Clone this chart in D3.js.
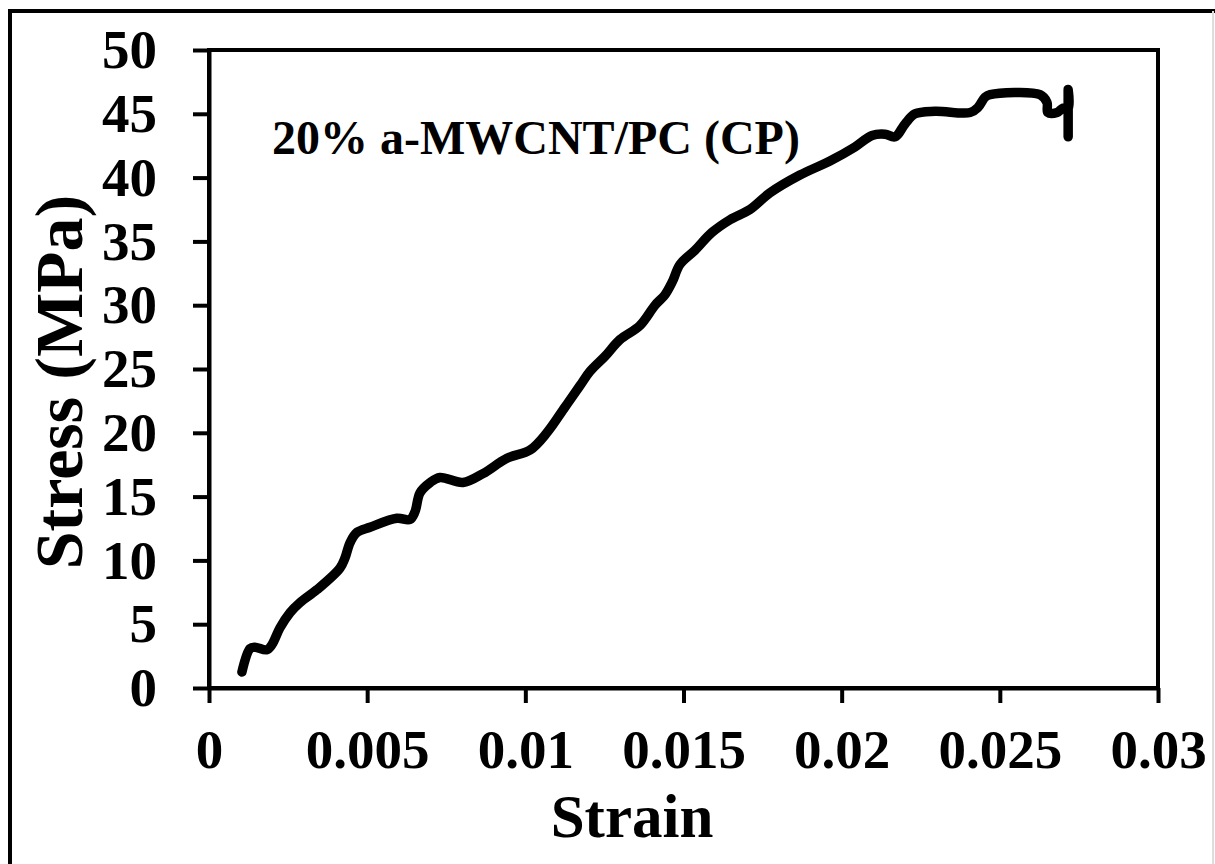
<!DOCTYPE html>
<html lang="en">
<head>
<meta charset="UTF-8">
<title>Stress-strain curve</title>
<script src="https://cdn.jsdelivr.net/npm/d3@7"></script>
<style>
  body { margin: 0; background: #fff; }
  svg { display: block; }
  text { font-family: 'Liberation Serif', 'Times New Roman', serif; font-weight: bold; fill: #000; }
</style>
</head>
<body>
<div id="chart"></div>
<script>
// values
var strain = [0.00104, 0.0013, 0.00145, 0.00183, 0.00199, 0.00224, 0.00256, 0.00288, 0.00341, 0.00414,
              0.0043, 0.00446, 0.00468, 0.00509, 0.00594, 0.00635, 0.00651, 0.00667, 0.00699, 0.0073,
              0.00803, 0.00866, 0.00942, 0.01015, 0.01068, 0.01125, 0.01173, 0.01204, 0.01252, 0.01299,
              0.01362, 0.0141, 0.01441, 0.01464, 0.01489, 0.01536, 0.0159, 0.01647, 0.0171, 0.01773,
              0.01868, 0.01963, 0.02042, 0.02096, 0.02137, 0.02169, 0.022, 0.02232, 0.02295, 0.02406,
              0.02431, 0.02453, 0.02469, 0.02627, 0.02649, 0.02652, 0.02681, 0.027, 0.02716, 0.02716, 0.02716];
var stress = [1.25, 3.1, 3.2, 3.0, 3.4, 4.7, 5.9, 6.7, 7.7, 9.4,
              10.2, 11.4, 12.2, 12.6, 13.3, 13.2, 13.8, 15.3, 16.1, 16.5,
              16.1, 16.8, 18.0, 18.65, 20.0, 22.0, 23.7, 24.8, 26.0, 27.3,
              28.4, 30.0, 30.8, 31.8, 33.2, 34.3, 35.7, 36.7, 37.5, 38.8,
              40.2, 41.3, 42.4, 43.3, 43.4, 43.2, 44.2, 45.0, 45.2, 45.1,
              45.5, 46.3, 46.5, 46.5, 45.9, 45.1, 45.1, 45.45, 45.4, 46.9, 43.2];
var xTicks = [0, 0.005, 0.01, 0.015, 0.02, 0.025, 0.03];
var xTickLabels = ["0", "0.005", "0.01", "0.015", "0.02", "0.025", "0.03"];
var yTicks = [0, 5, 10, 15, 20, 25, 30, 35, 40, 45, 50];
var seriesLabel = "20% a-MWCNT/PC (CP)";

var W = 1215, H = 864;
var m = { left: 209, right: 1158, top: 50, bottom: 688 };

var svg = d3.select('#chart').append('svg').attr('width', W).attr('height', H);

// outer frame
svg.append('path').attr('d', 'M10,' + H + 'V11H' + W)
   .style('fill', 'none').style('stroke', '#000').style('stroke-width', 4);
svg.append('line').attr('x1', 1213).attr('x2', 1213).attr('y1', 11).attr('y2', H)
   .style('stroke', '#ddd').style('stroke-width', 2);

var x = d3.scaleLinear().domain([0, 0.03]).range([m.left, m.right]);
var y = d3.scaleLinear().domain([0, 50]).range([m.bottom, m.top]);

// plot box
svg.append('rect').attr('x', m.left).attr('y', m.top)
   .attr('width', m.right - m.left).attr('height', m.bottom - m.top)
   .style('fill', 'none').style('stroke', '#000').style('stroke-width', 4);

var xAxis = d3.axisBottom(x).tickValues(xTicks).tickFormat((d, i) => xTickLabels[i])
   .tickSize(15).tickSizeOuter(0).tickPadding(26);
var gx = svg.append('g').attr('transform', 'translate(0,' + m.bottom + ')').call(xAxis);

var yAxis = d3.axisLeft(y).tickValues(yTicks).tickFormat(d3.format('d'))
   .tickSize(16).tickSizeOuter(0).tickPadding(36);
var gy = svg.append('g').attr('transform', 'translate(' + m.left + ',0)').call(yAxis);

[gx, gy].forEach(g => {
  g.attr('font-family', null).attr('font-size', null);
  g.select('.domain').style('stroke', '#000').style('stroke-width', 4);
  g.selectAll('.tick line').style('stroke', '#000').style('stroke-width', 4);
  g.selectAll('.tick text').style('font-size', '55px').attr('fill', '#000');
});

// curve
var line = d3.line().x((d, i) => x(strain[i])).y((d, i) => y(stress[i]))
   .curve(d3.curveCatmullRom.alpha(0.5));
svg.append('path').datum(stress).attr('d', line)
   .style('fill', 'none').style('stroke', '#000').style('stroke-width', 9.5)
   .style('stroke-linecap', 'round').style('stroke-linejoin', 'round');

// annotation and titles
svg.append('text').attr('x', 272).attr('y', 154).style('font-size', '48px').text(seriesLabel);
svg.append('text').attr('x', 632).attr('y', 837).attr('text-anchor', 'middle')
   .style('font-size', '61px').text('Strain');
svg.append('text').attr('transform', 'translate(82,382) rotate(-90)').attr('text-anchor', 'middle')
   .style('font-size', '68px').text('Stress (MPa)');
</script>
</body>
</html>
